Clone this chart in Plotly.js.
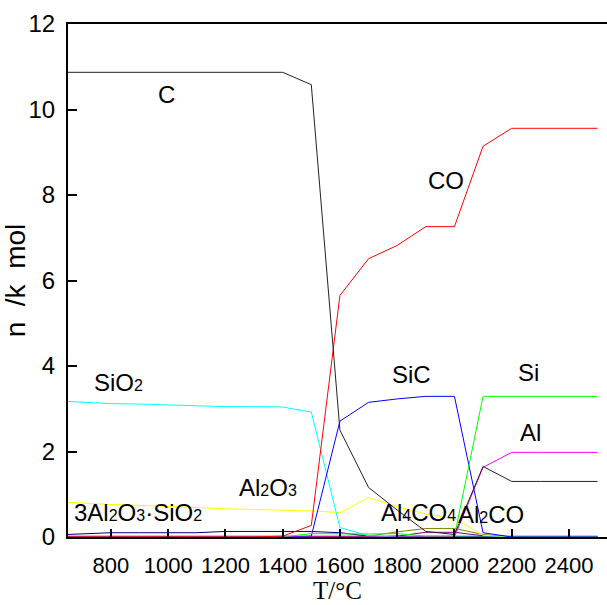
<!DOCTYPE html>
<html>
<head>
<meta charset="utf-8">
<script src="https://cdn.plot.ly/plotly-3.0.1.min.js"></script>
<style>html,body{margin:0;padding:0;background:#fff;}#chart{width:607px;height:605px;}</style>
</head>
<body>
<div id="chart"></div>
<script>
// Temperature (°C)
const T = [650,700,800,900,1000,1100,1200,1300,1400,1500,1600,1700,1800,1900,2000,2100,2200,2300,2400,2500];
// Amounts n / kmol
const C      = [10.87,10.87,10.87,10.87,10.87,10.87,10.87,10.87,10.87,10.58,2.5,1.16,0.63,0.13,0.06,1.65,1.3,1.3,1.3,1.3];
const CO     = [0,0,0,0,0,0,0,0,0.02,0.27,5.65,6.51,6.82,7.26,7.26,9.14,9.56,9.56,9.56,9.56];
const SiO2   = [3.17,3.15,3.12,3.11,3.09,3.07,3.05,3.05,3.04,2.92,0.22,0.03,0,0,0,0,0,0,0,0];
const Al2O3  = [0.81,0.79,0.76,0.74,0.72,0.69,0.66,0.64,0.62,0.61,0.57,0.92,0.71,0.54,0.43,0.04,0,0,0,0];
const SiC    = [0,0,0,0,0,0,0,0,0,0.02,2.71,3.15,3.23,3.29,3.29,0.1,0,0,0,0];
const Si     = [0,0,0,0,0,0,0,0,0,0.08,0.07,0.07,0.08,0.02,0.02,3.29,3.29,3.29,3.29,3.29];
const Al     = [0,0,0,0,0,0,0,0,0,0,0,0,0,0,0,1.63,1.98,1.98,1.98,1.98];
const Mullite= [0.06,0.07,0.1,0.1,0.1,0.1,0.13,0.13,0.13,0.13,0.1,0.02,0,0,0,0,0,0,0,0];
const Al4CO4 = [0,0,0,0,0,0,0,0,0,0,0,0.02,0.12,0.2,0.2,0.06,0,0,0,0];
const Al2CO  = [0,0,0,0,0,0,0,0,0,0,0,0,0.02,0.11,0.11,0.03,0,0,0,0];
const Minor  = [0,0,0,0,0,0,0,0,0,0,0,0,0,0,0,0,0,0,0,0];

const xTicks = [800,1000,1200,1400,1600,1800,2000,2200,2400];
const yTicks = [0,2,4,6,8,10,12];

const series = [
  {name:'Minor',   y:Minor,   color:'#800000', w:2.5},
  {name:'3Al2O3·SiO2', y:Mullite, color:'#000080', w:1},
  {name:'Al4CO4',  y:Al4CO4,  color:'#808000', w:1},
  {name:'Al2CO',   y:Al2CO,   color:'#800080', w:1},
  {name:'Al2O3',   y:Al2O3,   color:'#ffff00', w:1},
  {name:'SiO2',    y:SiO2,    color:'#00ffff', w:1},
  {name:'SiC',     y:SiC,     color:'#0000ff', w:1},
  {name:'Si',      y:Si,      color:'#00ff00', w:1},
  {name:'Al',      y:Al,      color:'#ff00ff', w:1},
  {name:'CO',      y:CO,      color:'#ff0000', w:1},
  {name:'C',       y:C,       color:'#222222', w:1}
];

const data = series.map(s => ({
  type:'scatter', mode:'lines', x:T, y:s.y, name:s.name,
  line:{color:s.color, width:s.w}, hoverinfo:'skip'
}));

const sub = t => '<span style="font-size:16px">' + t + '</span>';
const lab = (text, x, y) => ({text, x, y, xref:'x', yref:'y', showarrow:false,
  font:{family:'Liberation Sans, Arial, sans-serif', size:24, color:'#000'}});

const annotations = [
  lab('C', 995, 10.34),
  lab('CO', 1970, 8.34),
  lab('SiO'+sub('2'), 828, 3.61),
  lab('SiC', 1850, 3.79),
  lab('Si', 2260, 3.85),
  lab('Al', 2267, 2.44),
  lab('Al'+sub('2')+'O'+sub('3'), 1349, 1.16),
  lab('3Al'+sub('2')+'O'+sub('3')+'·SiO'+sub('2'), 896, 0.57),
  lab('Al'+sub('4')+'CO'+sub('4'), 1873, 0.57),
  lab('Al'+sub('2')+'CO', 2128, 0.53),
  {text:'T/°C', xref:'paper', yref:'paper', x:0.5, y:-0.1335, xanchor:'center', yanchor:'bottom',
   borderpad:0, showarrow:false, font:{family:'Liberation Serif, Times New Roman, serif', size:25, color:'#000'}}
];

const layout = {
  width:607, height:605,
  margin:{l:68, r:0, t:24, b:68, pad:0},
  paper_bgcolor:'#fff', plot_bgcolor:'#fff',
  showlegend:false,
  font:{family:'Liberation Sans, Arial, sans-serif', color:'#000'},
  xaxis:{
    range:[650, 2533], tickvals:xTicks, ticktext:xTicks.map(String),
    ticks:'inside', ticklen:8, tickwidth:2, tickcolor:'#000',
    showline:true, linecolor:'#000', linewidth:2, mirror:true,
    showgrid:false, zeroline:false,
    tickfont:{size:22, family:'Liberation Sans, Arial, sans-serif'},
    ticklabelstandoff:8,
    automargin:false
  },
  yaxis:{
    range:[0,12], tickvals:yTicks, ticktext:yTicks.map(String),
    ticks:'inside', ticklen:9, tickwidth:2, tickcolor:'#000',
    showline:true, linecolor:'#000', linewidth:2, mirror:false,
    showgrid:false, zeroline:false,
    tickfont:{size:24, family:'Liberation Sans, Arial, sans-serif'},
    ticklabelstandoff:6,
    title:{text:'n&nbsp;&nbsp;/k&nbsp;&nbsp;mol', font:{size:28, family:'Liberation Sans, Arial, sans-serif'}, standoff:4}
  },
  annotations
};

Plotly.newPlot('chart', data, layout, {staticPlot:true, displayModeBar:false});
</script>
</body>
</html>
